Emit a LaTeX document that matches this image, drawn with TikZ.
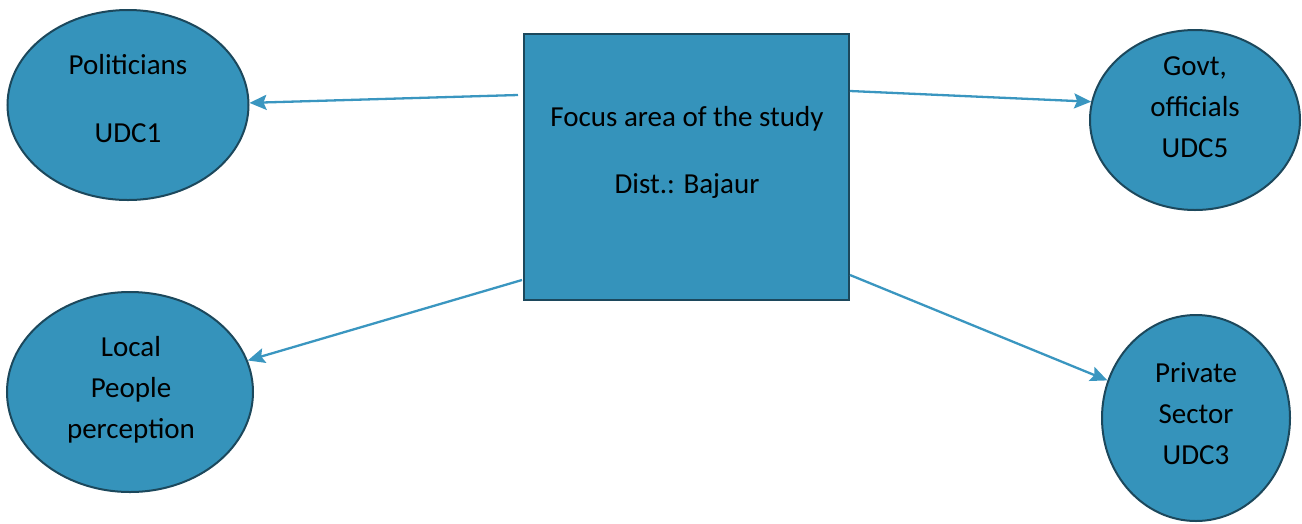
\documentclass[tikz,border=0pt]{standalone}
\usepackage{fontspec}
\setmainfont{Carlito}
\usetikzlibrary{arrows.meta,calc,shapes.geometric}
\definecolor{fillc}{RGB}{53,147,187}
\definecolor{edgec}{RGB}{28,72,92}
\definecolor{arrc}{RGB}{58,150,192}
\begin{document}
\begin{tikzpicture}[x=1pt,y=-1pt,
 shp/.style={fill=fillc,draw=edgec,line width=2pt,inner sep=0pt},
 ell/.style={shp,ellipse},
 lbl/.style={align=center,inner sep=0pt,text=black},
 con/.style={draw=arrc,line width=2.3pt,-{Stealth[length=17pt,width=15pt,inset=3pt]}}]
\useasboundingbox (0,0) rectangle (1302,523);
% shapes
\node[ell,minimum width=241pt,minimum height=190pt] (pol) at (128,105) {};
\node[ell,minimum width=210pt,minimum height=180pt] (gov) at (1195,120) {};
\node[ell,minimum width=246pt,minimum height=200pt] (loc) at (130,392) {};
\node[ell,minimum width=188pt,minimum height=206pt] (pri) at (1196,418) {};
\node[shp,rectangle,minimum width=325pt,minimum height=266pt] (box) at (686.5,167) {};
% labels
\node[lbl,font=\fontsize{29}{68}\selectfont] (polt) at (128,99) {Politicians\\UDC1};
\node[lbl,font=\fontsize{29}{67}\selectfont] (boxt) at (687,152) {Focus area of the study\\Dist.: Bajaur};
\node[lbl,font=\fontsize{29}{41}\selectfont] (govt) at (1195,107) {Govt,\\officials\\UDC5};
\node[lbl,font=\fontsize{29}{41}\selectfont] (loct) at (131,390) {Local\\People\\perception};
\node[lbl,font=\fontsize{29}{41}\selectfont] (prit) at (1196,414) {Private\\Sector\\UDC3};
% connectors
\coordinate (s1) at ($(box.west)+(-5,-72)$);
\coordinate (s2) at ($(box.east)+(0,-76)$);
\coordinate (s3) at ($(box.west)+(-1,113)$);
\coordinate (s4) at ($(box.east)+(0,108)$);
\draw[con] (s1) -- (pol.1.5);
\draw[con] (s2) -- (gov.170);
\draw[con] (s3) -- (loc.15);
\draw[con] (s4) -- (pri.157);
\end{tikzpicture}
\end{document}
